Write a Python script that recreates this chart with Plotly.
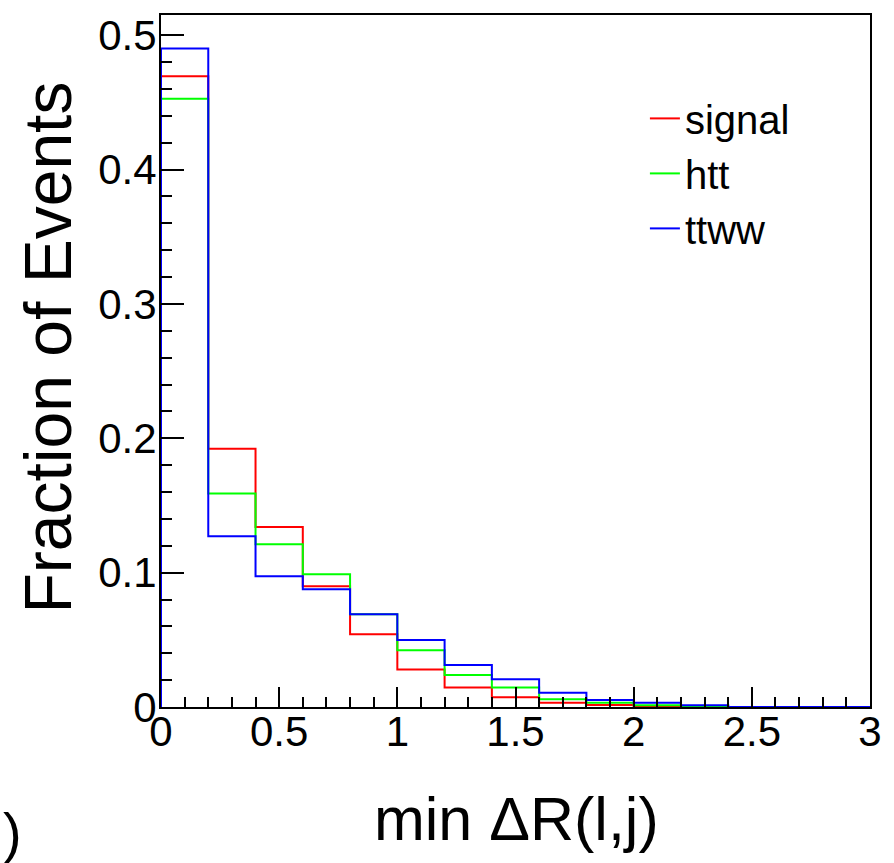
import plotly.graph_objects as go

# Bin edges of min ΔR(l,j)
bin_edges = [0.0, 0.2, 0.4, 0.6, 0.8, 1.0, 1.2, 1.4, 1.6, 1.8, 2.0, 2.2, 2.4, 2.6, 2.8, 3.0]

# Fraction of events per bin
signal = [0.4695, 0.1922, 0.1340, 0.0899, 0.0542, 0.0280, 0.0146, 0.0072, 0.0032, 0.0015, 0.0005, 0.0002, 0.0, 0.0, 0.0]
htt    = [0.4527, 0.1588, 0.1211, 0.0988, 0.0691, 0.0423, 0.0238, 0.0146, 0.0057, 0.0032, 0.0013, 0.0005, 0.0, 0.0, 0.0]
ttww   = [0.4900, 0.1270, 0.0973, 0.0877, 0.0691, 0.0498, 0.0312, 0.0206, 0.0106, 0.0052, 0.0032, 0.0013, 0.0, 0.0, 0.0]

series_names = ["signal", "htt", "ttww"]
series_colors = ["#ff0000", "#00ff00", "#0000ff"]

x_ticks = [0, 0.5, 1, 1.5, 2, 2.5, 3]
x_ticklabels = ["0", "0.5", "1", "1.5", "2", "2.5", "3"]
y_ticks = [0, 0.1, 0.2, 0.3, 0.4, 0.5]
y_ticklabels = ["0", "0.1", "0.2", "0.3", "0.4", "0.5"]

FONT = "Liberation Sans, Arial, Helvetica, sans-serif"

fig = go.Figure()
for name, vals, col in zip(series_names, [signal, htt, ttww], series_colors):
    xs = [bin_edges[0]] + list(bin_edges)
    ys = [0.0] + list(vals) + [vals[-1]]
    fig.add_trace(go.Scatter(
        x=xs, y=ys, mode="lines", name=name,
        line=dict(color=col, width=2, shape="hv"),
    ))

W, H = 894, 863
L, R, T, B = 161, 18, 14, 156
pw, ph = W - L - R, H - T - B

def px2paper_x(px):
    return (px - L) / pw

def px2paper_y(py):
    return (H - B - py) / ph

fig.update_layout(
    width=W, height=H,
    margin=dict(l=L, r=R, t=T, b=B, pad=0),
    paper_bgcolor="white", plot_bgcolor="white",
    font=dict(family=FONT, color="black"),
    showlegend=True,
    legend=dict(
        x=px2paper_x(649), y=px2paper_y(85), xanchor="left", yanchor="top",
        font=dict(size=40, family=FONT, color="black"),
        bgcolor="rgba(0,0,0,0)", borderwidth=0,
        tracegroupgap=0, itemwidth=30,
    ),
    xaxis=dict(
        range=[0, 3], showgrid=False, zeroline=False,
        showline=True, linecolor="black", linewidth=2, mirror=True,
        ticks="inside", ticklen=20, tickwidth=2, tickcolor="black",
        tickvals=x_ticks, ticktext=x_ticklabels,
        tickfont=dict(size=42, family=FONT, color="black"),
        ticklabelstandoff=-13,
        minor=dict(ticks="inside", ticklen=10, tickwidth=2, tickcolor="black", dtick=0.1, showgrid=False),
    ),
    yaxis=dict(
        range=[0, 0.515], showgrid=False, zeroline=False,
        showline=True, linecolor="black", linewidth=2, mirror=True,
        ticks="inside", ticklen=23, tickwidth=2, tickcolor="black",
        tickvals=y_ticks, ticktext=y_ticklabels,
        tickfont=dict(size=42, family=FONT, color="black"),
        ticklabelstandoff=-6,
        minor=dict(ticks="inside", ticklen=11, tickwidth=2, tickcolor="black", dtick=0.02, showgrid=False),
    ),
    annotations=[
        dict(text="min ΔR(l,j)", xref="paper", yref="paper",
             x=px2paper_x(520), y=px2paper_y(819), xanchor="center", yanchor="middle",
             showarrow=False, font=dict(size=61, family=FONT, color="black")),
        dict(text="Fraction of Events", xref="paper", yref="paper",
             x=px2paper_x(47), y=px2paper_y(347), xanchor="center", yanchor="middle",
             textangle=-90, showarrow=False, font=dict(size=66, family=FONT, color="black")),
        dict(text=")", xref="paper", yref="paper",
             x=px2paper_x(0), y=px2paper_y(833), xanchor="left", yanchor="middle",
             showarrow=False, font=dict(size=56, family=FONT, color="black")),
    ],
)

fig.write_html("out.html")
